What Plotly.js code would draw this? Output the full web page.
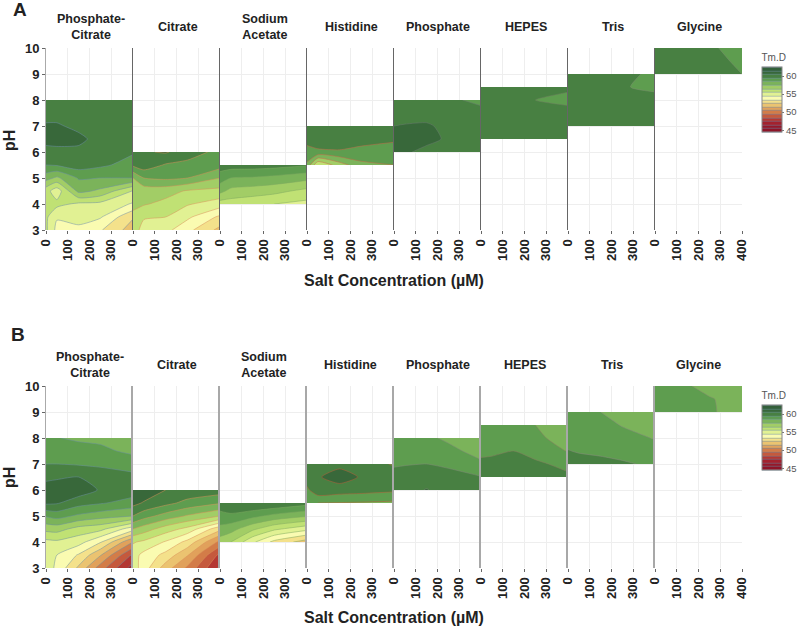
<!DOCTYPE html>
<html>
<head>
<meta charset="utf-8">
<script src="https://cdn.plot.ly/plotly-3.0.1.min.js"></script>
<style>html,body{margin:0;padding:0;background:#fff}</style>
</head>
<body>
<div id="grafic" style="width:797px;height:628px"></div>
<script>
// salt levels shared by every panel, pH rows differ per buffer
var salts = [0, 50, 150, 250, 400];
var buffers = ["Phosphate-<br>Citrate", "Citrate", "Sodium<br>Acetate", "Histidine", "Phosphate", "HEPES", "Tris", "Glycine"];
var phRows = [
    [3, 3.5, 4, 4.5, 5, 5.5, 6, 6.5, 7, 7.5, 8],
    [3, 3.5, 4, 4.5, 5, 5.5, 6],
    [4, 4.5, 5, 5.5],
    [5.5, 6, 6.5, 7],
    [6, 6.5, 7, 7.5, 8],
    [6.5, 7, 7.5, 8, 8.5],
    [7, 7.5, 8, 8.5, 9],
    [9, 9.5, 10]
];
var saltTicks = [0, 100, 200, 300];
var saltTicksLast = [0, 100, 200, 300, 400];
var phTicks = [3, 4, 5, 6, 7, 8, 9, 10];
var barTicks = [45, 50, 55, 60];

// Tm.D
var a_phosphateCitrate = [
    [55.7, 54.2, 54.3, 53.6, 52.0],
    [55.7, 54.6, 54.8, 54.6, 52.6],
    [55.9, 55.8, 55.3, 55.2, 54.4],
    [55.9, 54.9, 57.8, 57.3, 55.4],
    [57.9, 57.3, 58.6, 58.5, 58.5],
    [59.5, 59.6, 60.0, 59.7, 59.1],
    [60.2, 60.2, 60.3, 60.0, 59.6],
    [60.8, 60.9, 60.7, 60.2, 60.0],
    [60.6, 60.6, 60.3, 60.1, 60.0],
    [60.2, 60.2, 60.0, 60.0, 60.0],
    [60.0, 60.0, 60.0, 60.0, 60.0]
];
var a_citrate = [
    [56.0, 55.1, 54.8, 53.8, 52.2],
    [56.3, 55.6, 55.5, 54.7, 53.3],
    [56.7, 56.6, 56.2, 55.6, 55.0],
    [56.9, 56.9, 56.9, 56.4, 56.2],
    [57.5, 58.5, 58.7, 58.5, 57.5],
    [59.7, 60.1, 59.4, 59.2, 58.9],
    [60.2, 60.4, 60.6, 60.0, 59.2]
];
var a_acetate = [
    [56.0, 56.0, 55.8, 55.5, 55.2],
    [57.8, 57.2, 57.0, 56.8, 56.2],
    [59.0, 58.5, 58.4, 58.2, 57.8],
    [60.0, 60.0, 60.0, 59.9, 59.6]
];
var a_histidine = [
    [58.3, 55.5, 57.0, 58.2, 58.5],
    [59.2, 59.3, 59.4, 59.25, 59.2],
    [59.8, 60.1, 60.0, 59.8, 59.6],
    [60.2, 60.3, 60.3, 60.2, 60.0]
];
var a_phosphate = [
    [61.0, 60.7, 60.1, 60.0, 60.0],
    [61.2, 61.2, 60.9, 60.3, 60.0],
    [60.5, 60.55, 60.6, 60.3, 60.0],
    [60.2, 60.2, 60.2, 60.2, 60.0],
    [60.0, 60.0, 60.0, 59.8, 59.1]
];
var a_hepes = [
    [60.0, 60.0, 60.0, 60.0, 60.0],
    [60.0, 60.0, 60.0, 60.0, 60.0],
    [60.0, 60.0, 60.0, 60.0, 59.9],
    [60.0, 60.0, 60.0, 59.5, 59.2],
    [60.0, 60.0, 60.0, 60.0, 59.7]
];
var a_tris = [
    [60.0, 60.0, 60.0, 60.0, 60.0],
    [60.0, 60.0, 60.0, 60.0, 60.0],
    [60.0, 60.0, 60.0, 60.0, 60.0],
    [60.0, 60.0, 60.0, 59.6, 59.2],
    [60.0, 60.0, 60.0, 59.9, 59.2]
];
var a_glycine = [
    [60.0, 60.0, 60.0, 60.0, 59.5],
    [60.0, 60.0, 60.0, 60.0, 59.2],
    [60.0, 60.0, 60.0, 59.7, 59.0]
];

// Tm.D
var b_phosphateCitrate = [
    [55.0, 54.3, 52.3, 50.0, 47.0],
    [55.0, 54.5, 53.4, 51.6, 48.3],
    [55.2, 55.3, 54.9, 53.6, 50.5],
    [56.8, 56.9, 56.1, 55.8, 53.9],
    [58.6, 58.9, 58.3, 57.9, 57.5],
    [60.7, 60.6, 59.9, 59.6, 59.1],
    [60.9, 60.9, 61.1, 60.4, 60.0],
    [60.3, 60.4, 60.5, 60.1, 59.8],
    [59.5, 59.5, 59.4, 59.3, 59.0],
    [59.2, 59.2, 59.0, 58.7, 58.3],
    [58.8, 58.55, 58.3, 58.3, 58.0]
];
var b_citrate = [
    [55.0, 54.0, 52.0, 50.3, 47.3],
    [54.9, 54.2, 53.2, 51.6, 48.2],
    [55.6, 55.3, 54.4, 53.2, 50.2],
    [57.5, 57.0, 56.0, 55.2, 52.8],
    [59.5, 58.9, 58.1, 57.4, 56.5],
    [60.8, 60.4, 59.8, 59.2, 58.6],
    [61.4, 61.2, 60.5, 60.2, 60.0]
];
var b_acetate = [
    [57.0, 56.5, 54.7, 53.2, 52.0],
    [58.2, 57.9, 56.7, 55.7, 54.8],
    [59.2, 59.3, 58.8, 58.2, 57.6],
    [60.0, 60.3, 60.5, 60.4, 59.9]
];
var b_histidine = [
    [58.6, 58.5, 58.45, 58.4, 58.3],
    [59.3, 60.2, 60.0, 59.9, 59.7],
    [60.0, 60.4, 61.0, 60.4, 60.0],
    [60.0, 60.1, 60.2, 60.0, 59.4]
];
var b_phosphate = [
    [60.0, 60.2, 60.55, 60.1, 59.9],
    [60.1, 60.2, 60.1, 59.9, 59.55],
    [59.3, 59.4, 59.5, 59.3, 58.7],
    [59.0, 59.0, 59.0, 58.8, 58.1],
    [58.8, 58.8, 58.7, 58.3, 57.9]
];
var b_hepes = [
    [60.1, 60.1, 60.1, 60.0, 59.7],
    [59.8, 59.8, 59.9, 59.7, 59.2],
    [59.2, 59.3, 59.5, 59.1, 58.45],
    [59.0, 59.0, 59.0, 58.7, 58.1],
    [59.0, 59.0, 58.9, 58.5, 58.0]
];
var b_tris = [
    [60.1, 60.0, 59.8, 59.65, 59.3],
    [59.55, 59.4, 59.3, 59.1, 58.8],
    [59.1, 59.1, 59.0, 58.8, 58.45],
    [58.9, 58.9, 58.8, 58.45, 58.1],
    [58.8, 58.8, 58.5, 58.1, 58.0]
];
var b_glycine = [
    [59.0, 59.0, 59.0, 58.65, 58.0],
    [59.0, 59.0, 59.0, 58.6, 58.0],
    [59.0, 59.0, 58.6, 58.1, 58.0]
];

var rowsA = [a_phosphateCitrate, a_citrate, a_acetate, a_histidine, a_phosphate, a_hepes, a_tris, a_glycine];
var rowsB = [b_phosphateCitrate, b_citrate, b_acetate, b_histidine, b_phosphate, b_hepes, b_tris, b_glycine];

// contour line colour of each panel, they differ in the figure
var liniesA = ["#6f8fa8", "#d9915a", "#7fa860", "#c8674a", "#6a7a70", "#6f7d60", "#7f8f70", "#7f8f70"];
var liniesB = ["#6b8fa0", "#d9915a", "#7fa860", "#b85c3a", "#808878", "#8a7a60", "#8a8a80", "#8a8a70"];

// one colour per 1 degree band, from 45 up to 62
var colorsBanda = ["#8e1428", "#9a1a2c", "#a8262f", "#b93f35", "#c9613f", "#d5824a", "#e3a65e", "#ecc672", "#f4e28c",
    "#fbfbb2", "#e4f296", "#c4e376", "#aad268", "#82b85c", "#65a552", "#4f8a47", "#3c6e3a", "#33603a"];
// plotly stretches the scale over 44..63 when start=44.5, end=62.5, size=1
var escala = [[0, colorsBanda[0]]];
colorsBanda.forEach(function (c, k) {
    escala.push([(k + 1) / 19, c]);
});
escala.push([1, colorsBanda[colorsBanda.length - 1]]);

var W = 797, H = 628;
var pX0 = 46, pW = 87;
var dades = [];
var layout = {
    width: W, height: H,
    margin: {l: 0, r: 0, t: 0, b: 0, autoexpand: false},
    paper_bgcolor: "white", plot_bgcolor: "white",
    font: {family: "Liberation Sans, Arial, sans-serif", color: "#222"},
    showlegend: false,
    annotations: []
};

function nota(text, x, y, size, extra) {
    layout.annotations.push(Object.assign({
        text: text, xref: "paper", yref: "paper", x: x / W, y: 1 - y / H,
        showarrow: false, xanchor: "center", yanchor: "middle",
        font: {size: size, weight: "bold", color: "#222"}
    }, extra || {}));
}

function fesFila(rows, linies, top, bottom, nFila, colorEix, ampleEix, yTitols, dxTitols) {
    for (var k = 0; k < 8; k++) {
        var n = nFila * 8 + k + 1;
        var left = pX0 + k * pW;
        dades.push({
            type: "contour", x: salts, y: phRows[k], z: rows[k],
            xaxis: "x" + n, yaxis: "y" + n,
            zmin: 44.5, zmax: 62.5, colorscale: escala,
            autocontour: false,
            contours: {start: 44.5, end: 62.5, size: 1, coloring: "fill"},
            line: {color: linies[k], width: 0.5, smoothing: 0.6},
            hoverinfo: "skip",
            showscale: k == 0,
            colorbar: {
                title: {text: "Tm.D", side: "top", font: {size: 10, color: "#555"}},
                x: 762 / W, xanchor: "left", xpad: 0,
                y: 1 - (top + 3) / H, yanchor: "top", ypad: 0,
                thickness: 20, thicknessmode: "pixels", len: 81, lenmode: "pixels",
                tickvals: barTicks, ticks: "outside", ticklen: 2, tickcolor: "#777",
                tickfont: {size: 9.5, color: "#555"},
                outlinecolor: "#888", outlinewidth: 1, bordercolor: "rgba(0,0,0,0)"
            }
        });
        layout["xaxis" + n] = {
            domain: [left / W, (left + pW) / W], anchor: "y" + n,
            range: [0, 400], tickmode: "array",
            tickvals: k == 7 ? saltTicksLast : saltTicks,
            ticks: "outside", ticklen: 3, tickcolor: "#666", tickangle: -90,
            tickfont: {size: 13, weight: "bold", color: "#222"},
            showgrid: true, gridcolor: "#eeeeee", gridwidth: 1, zeroline: false, showline: false
        };
        layout["yaxis" + n] = {
            domain: [1 - bottom / H, 1 - top / H], anchor: "x" + n,
            range: [3, 10], tickmode: "array", tickvals: phTicks,
            ticks: k == 0 ? "outside" : "", ticklen: 3, tickcolor: "#666",
            showticklabels: k == 0,
            tickfont: {size: 13, weight: "bold", color: "#222"},
            showgrid: true, gridcolor: "#eeeeee", gridwidth: 1, zeroline: false,
            showline: true, linecolor: k == 0 ? "#aaaaaa" : colorEix, linewidth: k == 0 ? 1 : ampleEix
        };
        nota(buffers[k], left + pW / 2 + dxTitols, yTitols, 12.5);
    }
}

fesFila(rowsA, liniesA, 48, 230, 0, "#666666", 1, 26.5, 1);
fesFila(rowsB, liniesB, 386, 568, 1, "#a8a8a8", 2, 365.5, 0);

nota("A", 20, 9, 19);
nota("B", 18, 334, 19);
nota("pH", 9, 141, 16, {textangle: -90});
nota("pH", 9, 478, 16, {textangle: -90});
nota("Salt Concentration (µM)", 394, 280, 16);
nota("Salt Concentration (µM)", 394, 617, 16);

Plotly.newPlot("grafic", dades, layout, {displayModeBar: false, responsive: false});
</script>
</body>
</html>
